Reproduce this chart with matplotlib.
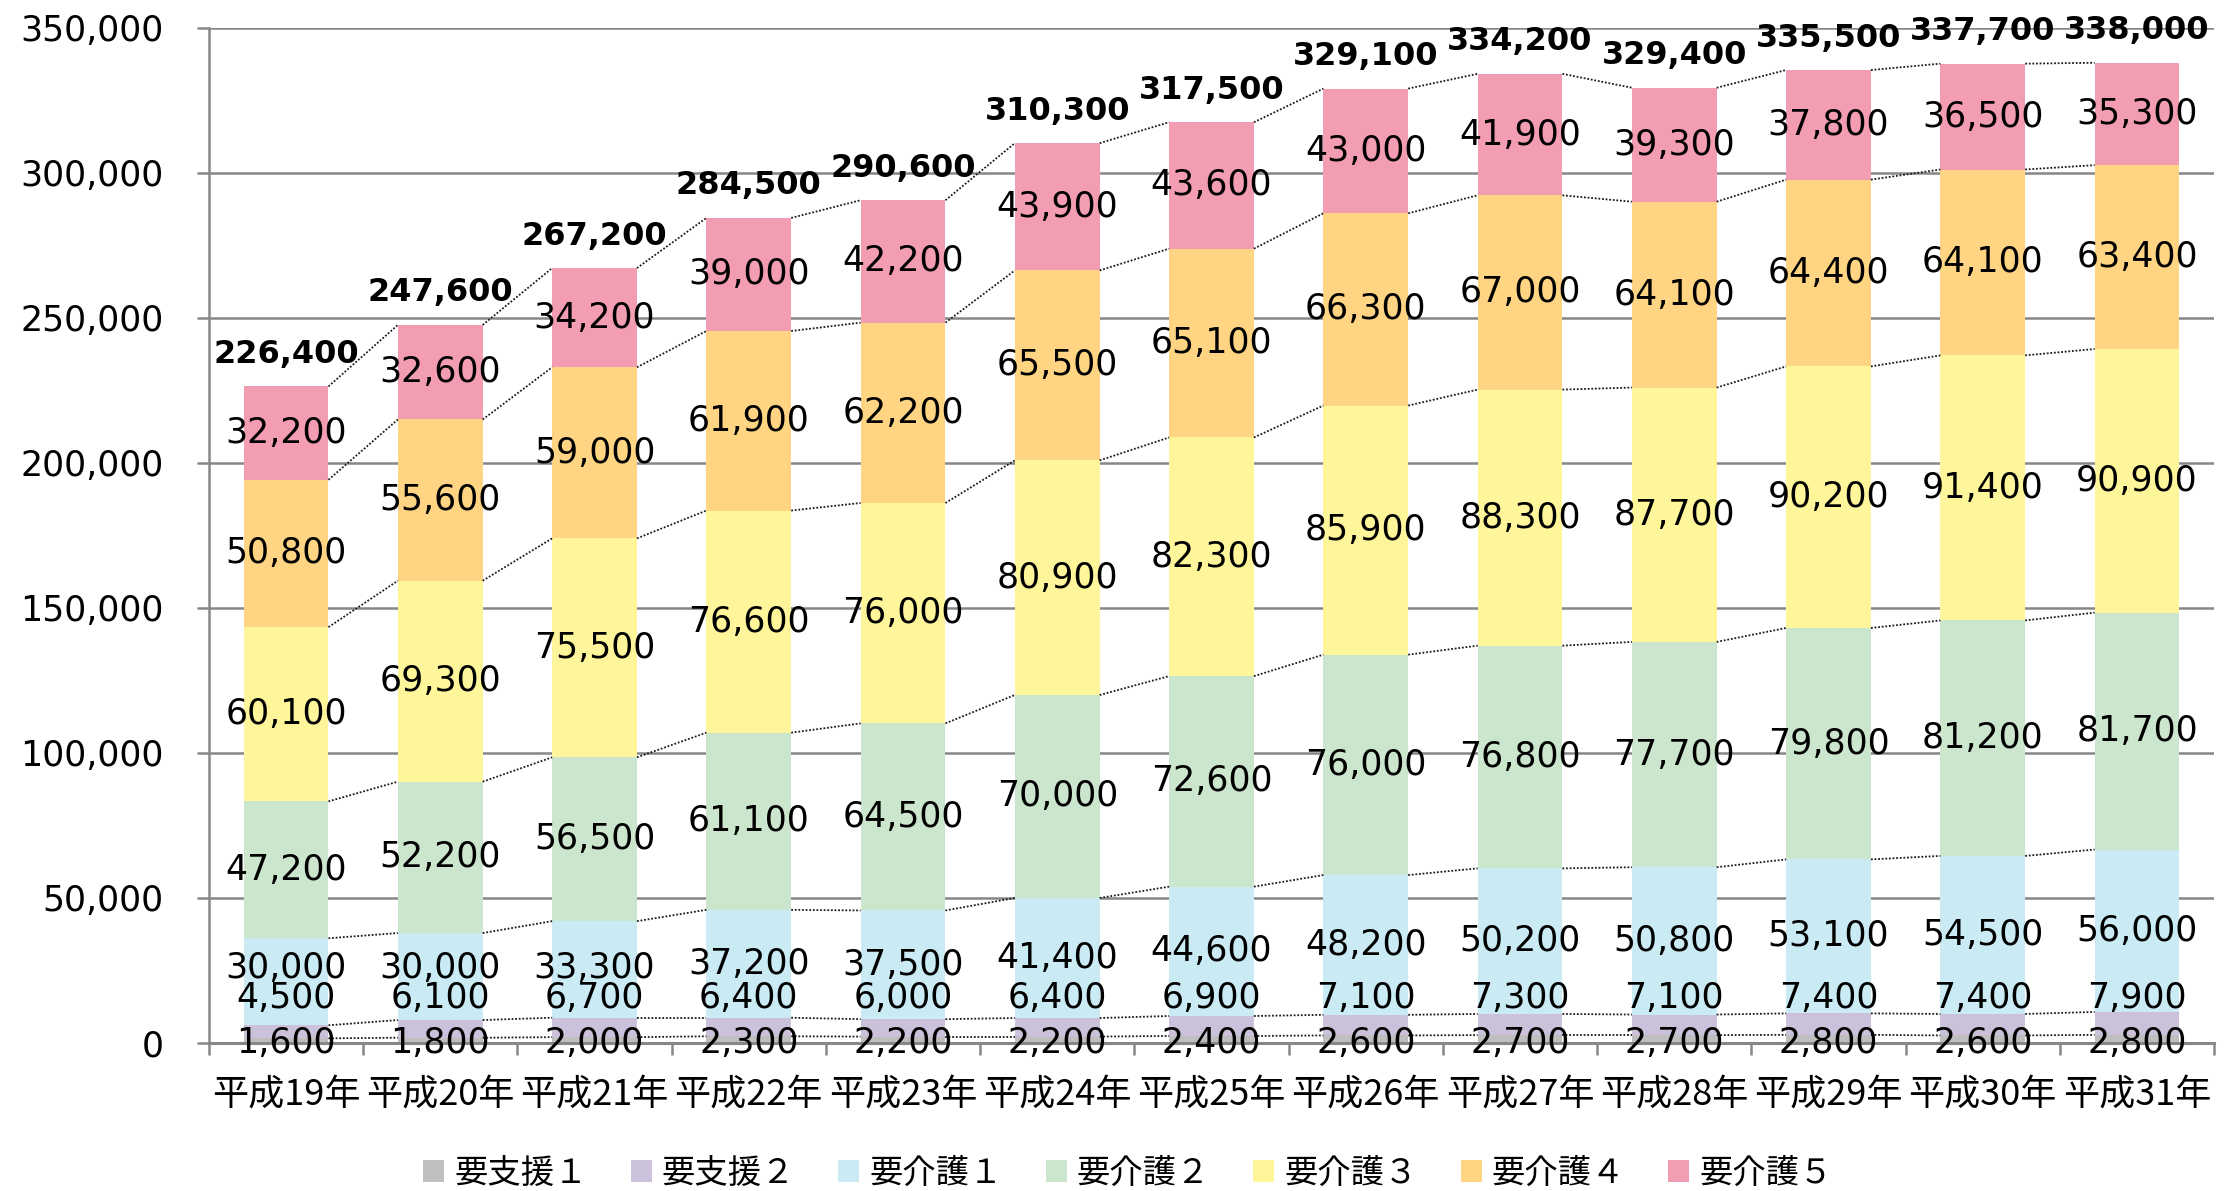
import matplotlib
matplotlib.use("Agg")
import matplotlib.pyplot as plt
from matplotlib.patches import Patch
from matplotlib.ticker import FuncFormatter, FixedLocator

plt.rcParams['font.family'] = ['DejaVu Sans', 'Noto Sans CJK JP']

categories = ['平成19年', '平成20年', '平成21年', '平成22年', '平成23年', '平成24年', '平成25年',
              '平成26年', '平成27年', '平成28年', '平成29年', '平成30年', '平成31年']

series_names = ['要支援１', '要支援２', '要介護１', '要介護２', '要介護３', '要介護４', '要介護５']

shien1 = [1600, 1800, 2000, 2300, 2200, 2200, 2400, 2600, 2700, 2700, 2800, 2600, 2800]
shien2 = [4500, 6100, 6700, 6400, 6000, 6400, 6900, 7100, 7300, 7100, 7400, 7400, 7900]
kaigo1 = [30000, 30000, 33300, 37200, 37500, 41400, 44600, 48200, 50200, 50800, 53100, 54500, 56000]
kaigo2 = [47200, 52200, 56500, 61100, 64500, 70000, 72600, 76000, 76800, 77700, 79800, 81200, 81700]
kaigo3 = [60100, 69300, 75500, 76600, 76000, 80900, 82300, 85900, 88300, 87700, 90200, 91400, 90900]
kaigo4 = [50800, 55600, 59000, 61900, 62200, 65500, 65100, 66300, 67000, 64100, 64400, 64100, 63400]
kaigo5 = [32200, 32600, 34200, 39000, 42200, 43900, 43600, 43000, 41900, 39300, 37800, 36500, 35300]

totals = [226400, 247600, 267200, 284500, 290600, 310300, 317500,
          329100, 334200, 329400, 335500, 337700, 338000]

y_ticks = [0, 50000, 100000, 150000, 200000, 250000, 300000, 350000]

colors = ['#BFBFBF', '#CCC1DA', '#CAEBF4', '#CBE6CC', '#FFF69B', '#FFD482', '#F29DB1']

series = [shien1, shien2, kaigo1, kaigo2, kaigo3, kaigo4, kaigo5]

fig = plt.figure(figsize=(22.32, 11.91), dpi=100)
ax = fig.add_axes([0.0936, 0.1243, 0.8984, 0.8522])

n = len(categories)
x = list(range(n))
width = 0.55

bottoms = [0] * n
levels = []
for vals, col in zip(series, colors):
    ax.bar(x, vals, width, bottom=bottoms, color=col, linewidth=0, zorder=2)
    bottoms = [b + v for b, v in zip(bottoms, vals)]
    levels.append(list(bottoms))

# series lines linking the top of each segment to the next bar
for lev in levels:
    for i in range(n - 1):
        ax.plot([x[i] + width / 2, x[i + 1] - width / 2], [lev[i], lev[i + 1]],
                color='#1a1a1a', lw=1.3, linestyle=(0, (1, 1)), zorder=3)

# segment value labels; the three thinnest layers are pushed apart upward
fmt = lambda v: f'{v:,}'
for i in range(n):
    base = 0
    prev_y = None
    for k, vals in enumerate(series):
        v = vals[i]
        yc = base + v / 2
        if k == 0:
            yl = 0
        elif k == 1:
            yl = max(yc, 15500)
        elif k == 2:
            yl = max(yc, prev_y + 10500)
        else:
            yl = yc
        ax.text(x[i], yl, fmt(v), ha='center', va='center', fontsize=25,
                color='black', zorder=5)
        prev_y = yl
        base += v

for i in range(n):
    ax.annotate(fmt(totals[i]), (x[i], totals[i]), xytext=(0, 23),
                textcoords='offset points', ha='center', va='center',
                fontsize=23, fontweight='bold', color='black', zorder=5)

ax.set_xlim(-0.5, n - 0.5)
ax.set_ylim(0, 350000)
ax.set_yticks(y_ticks)
ax.yaxis.set_major_formatter(FuncFormatter(lambda v, p: f'{int(v):,}'))
ax.tick_params(axis='y', direction='out', length=8.6, width=1.8, color='#878787',
               labelsize=25, pad=24)
ax.yaxis.grid(True, color='#878787', lw=1.8, zorder=0)
ax.set_axisbelow(True)

ax.set_xticks(x)
ax.set_xticklabels(categories, fontsize=26, family=['Noto Sans CJK JP'])
ax.tick_params(axis='x', which='major', length=0, pad=25)
ax.xaxis.set_minor_locator(FixedLocator([i - 0.5 for i in range(n + 1)]))
ax.tick_params(axis='x', which='minor', direction='out', length=8.6, width=1.8,
               color='#878787')

for s in ['top', 'right']:
    ax.spines[s].set_visible(False)
ax.spines['left'].set_color('#878787')
ax.spines['left'].set_linewidth(1.8)
ax.spines['bottom'].set_color('#878787')
ax.spines['bottom'].set_linewidth(2.2)
ax.spines['bottom'].set_zorder(4)

handles = [Patch(facecolor=c, edgecolor='none') for c in colors]
fig.legend(handles, series_names, loc='center', bbox_to_anchor=(0.5054, 0.0151),
           ncol=7, frameon=False, handlelength=0.62, handleheight=0.62,
           handletextpad=0.3, columnspacing=1.3,
           prop={'family': ['Noto Sans CJK JP'], 'size': 24})

fig.savefig('out.png', dpi=100)
